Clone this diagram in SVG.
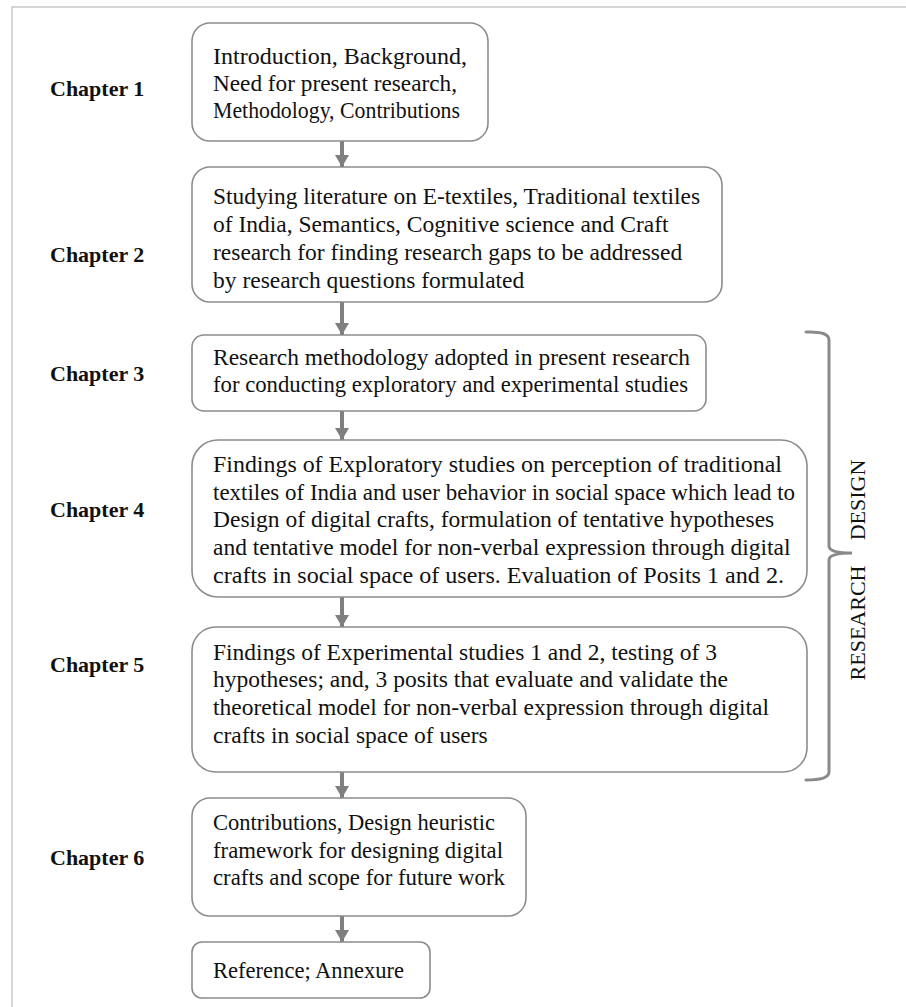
<svg xmlns="http://www.w3.org/2000/svg" width="906" height="1007" viewBox="0 0 906 1007">
  <defs>
    <style>
      .frame { fill: none; stroke: #c8c8c8; stroke-width: 1.5; }
      .box { fill: #ffffff; stroke: #8c8c8c; stroke-width: 1.6; }
      .body { font-family: "Liberation Serif", "Times New Roman", serif; font-size: 23.5px; fill: #111111; }
      .chap { font-family: "Liberation Serif", "Times New Roman", serif; font-size: 22px; font-weight: bold; fill: #111111; }
      .flow { stroke: #7f7f7f; stroke-width: 4; fill: none; }
      .brace { stroke: #8a8a8a; stroke-width: 3; fill: none; stroke-linecap: round; }
      .side { font-family: "Liberation Serif", "Times New Roman", serif; font-size: 22px; fill: #111111; text-anchor: middle; }
    </style>
    <marker id="arrowhead" markerUnits="userSpaceOnUse" markerWidth="16" markerHeight="14" refX="12" refY="7" orient="auto">
      <path d="M0,0 L12,7 L0,14 Z" fill="#7f7f7f"/>
    </marker>
  </defs>

  <rect width="906" height="1007" fill="#ffffff"/>
  <!-- page frame -->
  <rect class="frame" x="12" y="7" width="920" height="1020"/>

  <!-- chapter labels -->
  <g id="labels">
    <text class="chap" x="50" y="96">Chapter 1</text>
    <text class="chap" x="50" y="262">Chapter 2</text>
    <text class="chap" x="50" y="381">Chapter 3</text>
    <text class="chap" x="50" y="517">Chapter 4</text>
    <text class="chap" x="50" y="672">Chapter 5</text>
    <text class="chap" x="50" y="865">Chapter 6</text>
  </g>

  <!-- connectors -->
  <g id="connectors">
    <line class="flow" x1="342" y1="141" x2="342" y2="167" marker-end="url(#arrowhead)"/>
    <line class="flow" x1="342" y1="302" x2="342" y2="335" marker-end="url(#arrowhead)"/>
    <line class="flow" x1="342" y1="411" x2="342" y2="440" marker-end="url(#arrowhead)"/>
    <line class="flow" x1="342" y1="597" x2="342" y2="627" marker-end="url(#arrowhead)"/>
    <line class="flow" x1="342" y1="772" x2="342" y2="798" marker-end="url(#arrowhead)"/>
    <line class="flow" x1="342" y1="916" x2="342" y2="942" marker-end="url(#arrowhead)"/>
  </g>

  <g id="node-ch1">
    <rect class="box" x="192" y="23" width="296" height="118" rx="18"/>
    <text class="body" x="213" y="64" textLength="254" lengthAdjust="spacingAndGlyphs">Introduction, Background,</text>
    <text class="body" x="213" y="91" textLength="244" lengthAdjust="spacingAndGlyphs">Need for present research,</text>
    <text class="body" x="213" y="118" textLength="247" lengthAdjust="spacingAndGlyphs">Methodology, Contributions</text>
  </g>

  <g id="node-ch2">
    <rect class="box" x="192" y="167" width="530" height="135" rx="18"/>
    <text class="body" x="213" y="204" textLength="487" lengthAdjust="spacingAndGlyphs">Studying literature on E-textiles, Traditional textiles</text>
    <text class="body" x="213" y="232">of India, Semantics, Cognitive science and Craft</text>
    <text class="body" x="213" y="260">research for finding research gaps to be addressed</text>
    <text class="body" x="213" y="288">by research questions formulated</text>
  </g>

  <g id="node-ch3">
    <rect class="box" x="192" y="335" width="514" height="76" rx="12"/>
    <text class="body" x="213" y="365" textLength="477" lengthAdjust="spacingAndGlyphs">Research methodology adopted in present research</text>
    <text class="body" x="213" y="392" textLength="475" lengthAdjust="spacingAndGlyphs">for conducting exploratory and experimental studies</text>
  </g>

  <g id="node-ch4">
    <rect class="box" x="192" y="440" width="615" height="157" rx="26"/>
    <text class="body" x="213" y="472" textLength="569" lengthAdjust="spacingAndGlyphs">Findings of Exploratory studies on perception of traditional</text>
    <text class="body" x="213" y="500" textLength="582" lengthAdjust="spacingAndGlyphs">textiles of India and user behavior in social space which lead to</text>
    <text class="body" x="213" y="527">Design of digital crafts, formulation of tentative hypotheses</text>
    <text class="body" x="213" y="555">and tentative model for non-verbal expression through digital</text>
    <text class="body" x="213" y="583" textLength="571" lengthAdjust="spacingAndGlyphs">crafts in social space of users. Evaluation of Posits 1 and 2.</text>
  </g>

  <g id="node-ch5">
    <rect class="box" x="192" y="627" width="615" height="145" rx="24"/>
    <text class="body" x="213" y="660">Findings of Experimental studies 1 and 2, testing of 3</text>
    <text class="body" x="213" y="687">hypotheses; and, 3 posits that evaluate and validate the</text>
    <text class="body" x="213" y="715">theoretical model for non-verbal expression through digital</text>
    <text class="body" x="213" y="743">crafts in social space of users</text>
  </g>

  <g id="node-ch6">
    <rect class="box" x="192" y="798" width="334" height="118" rx="18"/>
    <text class="body" x="213" y="830" textLength="282" lengthAdjust="spacingAndGlyphs">Contributions, Design heuristic</text>
    <text class="body" x="213" y="858" textLength="290" lengthAdjust="spacingAndGlyphs">framework for designing digital</text>
    <text class="body" x="213" y="885" textLength="292" lengthAdjust="spacingAndGlyphs">crafts and scope for future work</text>
  </g>

  <g id="node-ref">
    <rect class="box" x="192" y="942" width="238" height="56" rx="10"/>
    <text class="body" x="213" y="978" textLength="191" lengthAdjust="spacingAndGlyphs">Reference; Annexure</text>
  </g>

  <!-- bracket grouping chapters 3 to 5 -->
  <g id="research-design">
    <path class="brace" d="M806,332 Q829,331 829,340 V546 Q829,553 852,553 Q829,553 829,560 V772 Q829,780 806,780"/>
    <text class="side" transform="translate(865,500) rotate(-90)">DESIGN</text>
    <text class="side" transform="translate(865,623) rotate(-90)">RESEARCH</text>
  </g>
</svg>
